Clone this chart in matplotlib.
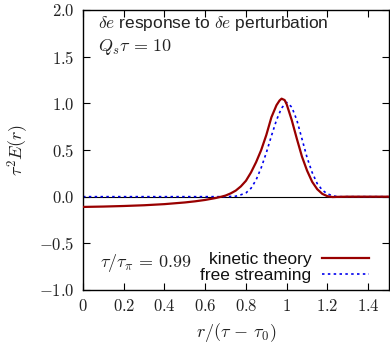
import matplotlib
matplotlib.use("Agg")
import matplotlib.pyplot as plt

plt.rcParams['mathtext.fontset'] = 'cm'
plt.rcParams['font.family'] = ['Liberation Sans', 'DejaVu Sans']

r_kin = [0.0, 0.1, 0.2, 0.3, 0.4, 0.5, 0.55, 0.6, 0.65, 0.68, 0.7, 0.725, 0.75, 0.775,
         0.8, 0.825, 0.85, 0.875, 0.9, 0.925, 0.95, 0.965, 0.975, 0.99, 1.0, 1.025,
         1.05, 1.075, 1.1, 1.125, 1.15, 1.175, 1.2, 1.225, 1.25, 1.3, 1.4, 1.5]
e_kin = [-0.11, -0.106, -0.10, -0.092, -0.08, -0.062, -0.05, -0.035, -0.015, 0.0, 0.012,
         0.035, 0.065, 0.11, 0.17, 0.26, 0.37, 0.50, 0.66, 0.85, 0.98, 1.03, 1.05, 1.035,
         0.99, 0.82, 0.62, 0.43, 0.28, 0.16, 0.08, 0.03, 0.005, -0.004, -0.002, 0.0, 0.0, 0.0]

r_fs = [0.0, 0.2, 0.4, 0.6, 0.7, 0.75, 0.775, 0.8, 0.825, 0.85, 0.875, 0.9, 0.925, 0.95,
        0.975, 1.0, 1.025, 1.05, 1.075, 1.1, 1.125, 1.15, 1.175, 1.2, 1.225, 1.25, 1.3, 1.5]
e_fs = [0.0, 0.0, 0.0, 0.0, 0.0, 0.005, 0.02, 0.04, 0.09, 0.18, 0.31, 0.47, 0.65, 0.82,
        0.95, 1.01, 0.96, 0.82, 0.62, 0.42, 0.26, 0.14, 0.07, 0.03, 0.01, 0.0, 0.0, 0.0]

xticks = [0, 0.2, 0.4, 0.6, 0.8, 1.0, 1.2, 1.4]
xticklabels = ['0', '0.2', '0.4', '0.6', '0.8', '1', '1.2', '1.4']
yticks = [-1.0, -0.5, 0.0, 0.5, 1.0, 1.5, 2.0]
yticklabels = ['-1.0', '-0.5', '0.0', '0.5', '1.0', '1.5', '2.0']

fig = plt.figure(figsize=(3.9, 3.45), dpi=100)
ax = fig.add_axes([83/390, 55/345, 305.5/390, 280/345])

ax.axhline(0, color='black', lw=0.8, zorder=1)
ax.plot(r_kin, e_kin, color='#990000', lw=1.6, label='kinetic theory', zorder=3)
ax.plot(r_fs, e_fs, color='#0000ee', lw=1.2, ls=(0, (1.5, 2)), label='free streaming', zorder=2)

ax.set_xlim(0, 1.5)
ax.set_ylim(-1.0, 2.0)
ax.set_xticks(xticks)
ax.set_xticklabels(['$%s$' % t for t in xticklabels], fontsize=12)
ax.set_yticks(yticks)
ax.set_yticklabels(['$%s$' % t for t in yticklabels], fontsize=12)
ax.tick_params(direction='in', top=True, right=True, length=5, width=0.8, pad=6,
               labelcolor='#222222')
for s in ax.spines.values():
    s.set_linewidth(1.0)

ax.set_xlabel(r'$r/(\tau\,-\,\tau_0)$', fontsize=13, labelpad=5, color='#222222')
ax.set_ylabel(r'$\tau^2 E(r)$', fontsize=13, labelpad=6, color='#222222')

ax.text(0.05, 0.985, r'$\delta e$ response to $\delta e$ perturbation', transform=ax.transAxes,
        fontsize=12.5, va='top', ha='left', color='#222222')
ax.text(0.05, 0.905, r'$Q_s\tau\,=\,10$', transform=ax.transAxes,
        fontsize=13, va='top', ha='left', color='#222222')
ax.text(0.055, 0.098, r'$\tau/\tau_\pi\,=\,0.99$', transform=ax.transAxes,
        fontsize=13, va='center', ha='left', color='#222222')

leg = ax.legend(loc='lower right', frameon=False, markerfirst=False, fontsize=12.5,
                handlelength=2.7, borderaxespad=0.0, borderpad=0.0, labelspacing=0.05,
                handletextpad=0.6, bbox_to_anchor=(0.935, 0.025))
for t in leg.get_texts():
    t.set_color('#111111')

fig.savefig('out.png', dpi=100)
